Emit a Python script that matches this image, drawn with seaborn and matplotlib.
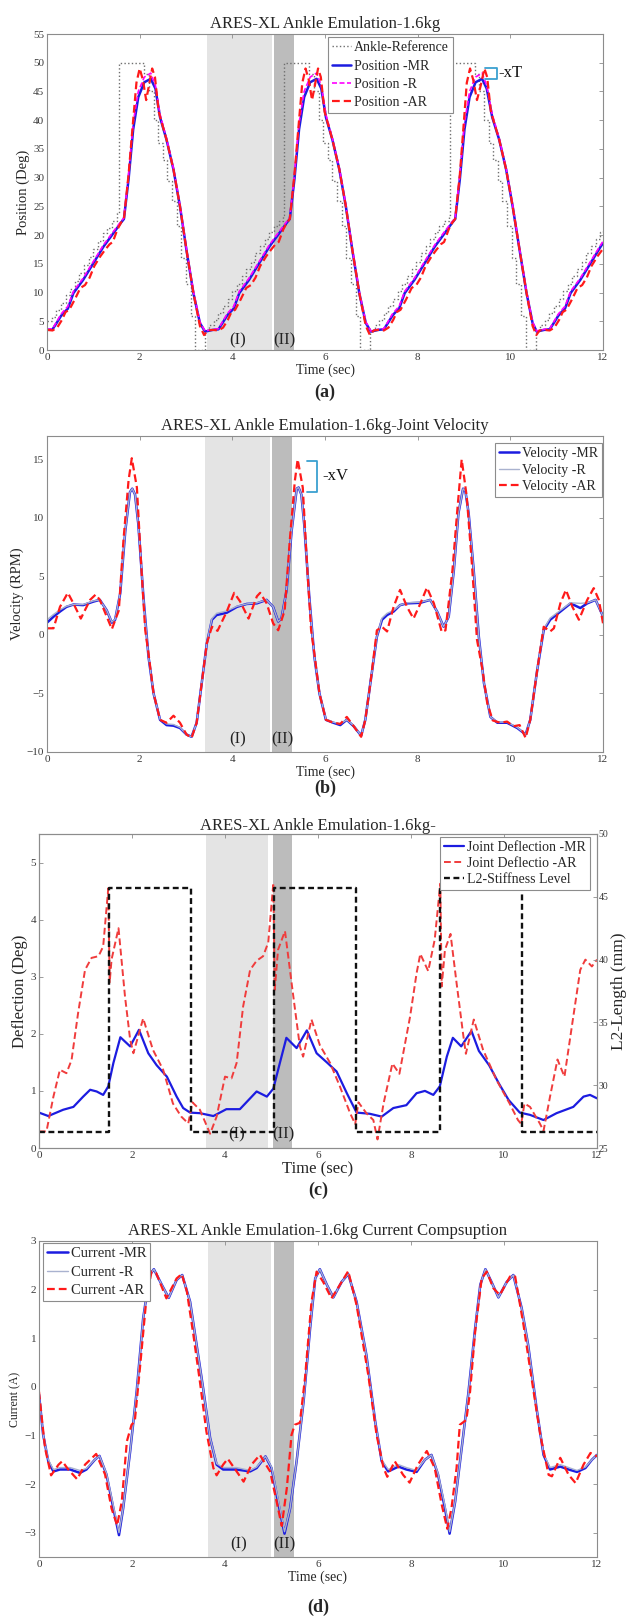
import matplotlib
matplotlib.use('Agg')
import matplotlib.pyplot as plt
import seaborn as sns

sns.set_style('white')
plt.rcParams['font.family'] = ['Liberation Serif', 'DejaVu Serif']
plt.rcParams['axes.linewidth'] = 0.8

# ---------------- data ----------------
# (a) position, deg
A_T_REF = [0.0, 0.1, 0.2, 0.3, 0.4, 0.5, 0.6, 0.7, 0.8, 0.9, 1.0, 1.1, 1.2, 1.3, 1.4, 1.5, 1.56,
           2.1, 2.2, 2.3, 2.4, 2.5, 2.6, 2.7, 2.8, 2.9, 3.0, 3.1, 3.2, 3.41,
           3.5, 3.6, 3.7, 3.8, 3.9, 4.0, 4.1, 4.2, 4.3, 4.4, 4.5, 4.6, 4.7, 4.8, 4.9, 5.0, 5.1, 5.12,
           5.66, 5.76, 5.86, 5.96, 6.06, 6.16, 6.26, 6.36, 6.46, 6.56, 6.66, 6.76, 6.98,
           7.07, 7.17, 7.27, 7.37, 7.47, 7.57, 7.67, 7.77, 7.87, 7.97, 8.07, 8.17, 8.27, 8.37, 8.47, 8.57, 8.67, 8.69,
           9.23, 9.33, 9.43, 9.53, 9.63, 9.73, 9.83, 9.93, 10.03, 10.13, 10.23, 10.33, 10.55,
           10.64, 10.74, 10.84, 10.94, 11.04, 11.14, 11.24, 11.34, 11.44, 11.54, 11.64, 11.74, 11.84, 11.94, 12.0]
A_REF = [5.0, 5.8, 7.0, 8.2, 9.5, 10.7, 12.0, 13.4, 14.8, 16.2, 17.5, 19.0, 20.3, 21.3, 22.4, 23.8, 50,
         48, 45, 40, 36, 33, 29.5, 26, 21.5, 16, 11.5, 6, 0, 3.5,
         4.3, 5.3, 6.4, 7.6, 8.9, 10.2, 11.5, 12.8, 14.1, 15.4, 16.8, 18.1, 19.3, 20.5, 21.5, 22.5, 23.5, 50,
         48, 45, 40, 36, 33, 29.5, 26, 21.5, 16, 11.5, 6, 0, 3.5,
         4.3, 5.3, 6.4, 7.6, 8.9, 10.2, 11.5, 12.8, 14.1, 15.4, 16.8, 18.1, 19.3, 20.5, 21.5, 22.5, 23.5, 50,
         48, 45, 40, 36, 33, 29.5, 26, 21.5, 16, 11.5, 6, 0, 3.5,
         4.3, 5.3, 6.4, 7.6, 8.9, 10.2, 11.5, 12.8, 14.1, 15.4, 16.8, 18.1, 19.3, 20.5, 21.0]

A_T_MR = [0.0, 0.12, 0.2, 0.3, 0.35, 0.45, 0.57, 0.78, 1.0, 1.22, 1.43, 1.6, 1.66, 1.76, 1.86, 1.97, 2.1, 2.24,
          2.34, 2.44, 2.58, 2.73, 2.87, 3.01, 3.16, 3.3, 3.41,
          3.58, 3.7, 3.78, 3.88, 3.93, 4.03, 4.15, 4.36, 4.58, 4.8, 5.01, 5.18, 5.24, 5.34, 5.44, 5.55, 5.68, 5.82,
          5.92, 6.02, 6.16, 6.31, 6.45, 6.59, 6.74, 6.88, 6.99,
          7.15, 7.27, 7.35, 7.45, 7.5, 7.6, 7.72, 7.93, 8.15, 8.37, 8.58, 8.75, 8.81, 8.91, 9.01, 9.12, 9.25, 9.39,
          9.49, 9.61, 9.76, 9.91, 10.05, 10.2, 10.35, 10.48, 10.57,
          10.73, 10.85, 10.93, 11.03, 11.08, 11.18, 11.3, 11.51, 11.73, 11.95, 12.0]
A_MR = [3.5, 3.6, 4.6, 5.9, 6.4, 7.2, 9.9, 12.2, 15.1, 18.0, 20.3, 22.2, 22.8, 29.7, 38.4, 44.0, 46.6, 47.2,
        45.5, 40.5, 36.6, 31.4, 25.0, 17.4, 9.9, 4.7, 3.2,
        3.5, 3.6, 4.6, 5.9, 6.4, 7.2, 9.9, 12.2, 15.1, 18.0, 20.3, 22.2, 22.8, 29.7, 38.4, 44.0, 46.6, 47.2,
        45.5, 40.5, 36.6, 31.4, 25.0, 17.4, 9.9, 4.7, 3.2,
        3.5, 3.6, 4.6, 5.9, 6.4, 7.2, 9.9, 12.2, 15.1, 18.0, 20.3, 22.2, 22.8, 29.7, 38.4, 44.0, 46.6, 47.2,
        45.5, 40.5, 36.6, 31.4, 25.0, 17.4, 9.9, 4.7, 3.2,
        3.5, 3.6, 4.6, 5.9, 6.4, 7.2, 9.9, 12.2, 15.1, 18.0, 18.6]
A_R = [3.6, 3.7, 4.8, 6.2, 6.7, 7.6, 10.2, 12.5, 15.4, 18.3, 20.6, 22.4, 23.0, 30.5, 39.5, 45.0, 47.5, 48.2,
       46.0, 41.0, 36.8, 31.6, 25.2, 17.6, 10.2, 4.9, 3.3,
       3.6, 3.7, 4.8, 6.2, 6.7, 7.6, 10.2, 12.5, 15.4, 18.3, 20.6, 22.4, 23.0, 30.5, 39.5, 45.0, 47.5, 48.2,
       46.0, 41.0, 36.8, 31.6, 25.2, 17.6, 10.2, 4.9, 3.3,
       3.6, 3.7, 4.8, 6.2, 6.7, 7.6, 10.2, 12.5, 15.4, 18.3, 20.6, 22.4, 23.0, 30.5, 39.5, 45.0, 47.5, 48.2,
       46.0, 41.0, 36.8, 31.6, 25.2, 17.6, 10.2, 4.9, 3.3,
       3.6, 3.7, 4.8, 6.2, 6.7, 7.6, 10.2, 12.5, 15.4, 18.3, 18.9]

A_T_AR = [0.0, 0.12, 0.22, 0.32, 0.4, 0.48, 0.6, 0.72, 0.82, 0.92, 1.02, 1.15, 1.25, 1.35, 1.42, 1.52, 1.6, 1.66,
          1.76, 1.86, 1.93, 2.0, 2.07, 2.14, 2.2, 2.27, 2.33, 2.41, 2.58, 2.73, 2.87, 3.01, 3.16, 3.3, 3.39, 3.47,
          3.58, 3.7, 3.8, 3.9, 3.98, 4.06, 4.18, 4.3, 4.4, 4.5, 4.6, 4.73, 4.83, 4.93, 5.0, 5.1, 5.18, 5.24,
          5.34, 5.44, 5.51, 5.58, 5.65, 5.72, 5.78, 5.85, 5.91, 5.99, 6.16, 6.31, 6.45, 6.59, 6.74, 6.88, 6.97, 7.05,
          7.15, 7.27, 7.37, 7.47, 7.55, 7.63, 7.75, 7.87, 7.97, 8.07, 8.17, 8.3, 8.4, 8.5, 8.57, 8.67, 8.75, 8.81,
          8.91, 9.0, 9.06, 9.13, 9.2, 9.28, 9.36, 9.44, 9.5, 9.58, 9.76, 9.91, 10.05, 10.2, 10.35, 10.48, 10.56, 10.63,
          10.73, 10.85, 10.95, 11.05, 11.13, 11.21, 11.33, 11.45, 11.55, 11.65, 11.75, 11.88, 11.98, 12.0]
A_AR = [3.5, 3.4, 3.9, 5.2, 6.6, 7.0, 8.8, 10.8, 11.3, 12.6, 14.6, 16.3, 17.4, 18.4, 18.8, 21.0, 22.2, 22.8,
        30.5, 40.0, 46.5, 49.0, 47.0, 43.5, 46.0, 49.0, 47.5, 41.5, 36.6, 31.4, 25.0, 17.4, 9.9, 4.2, 2.6, 3.4,
        3.5, 3.4, 3.9, 5.2, 6.6, 7.0, 8.8, 10.8, 11.3, 12.6, 14.6, 16.3, 17.4, 18.4, 18.8, 21.0, 22.2, 22.8,
        30.5, 40.0, 46.5, 49.0, 47.0, 43.5, 46.0, 49.0, 47.5, 41.5, 36.6, 31.4, 25.0, 17.4, 9.9, 4.2, 2.6, 3.4,
        3.5, 3.4, 3.9, 5.2, 6.6, 7.0, 8.8, 10.8, 11.3, 12.6, 14.6, 16.3, 17.4, 18.4, 18.8, 21.0, 22.2, 22.8,
        30.5, 40.0, 46.5, 49.0, 47.0, 43.5, 46.0, 49.0, 47.5, 41.5, 36.6, 31.4, 25.0, 17.4, 9.9, 4.2, 2.6, 3.4,
        3.5, 3.4, 3.9, 5.2, 6.6, 7.0, 8.8, 10.8, 11.3, 12.6, 14.6, 16.3, 17.4, 17.6]

# (b) joint velocity, RPM
B_T_MR = [0.0, 0.14, 0.28, 0.42, 0.57, 0.78, 1.0, 1.14, 1.29, 1.4, 1.47, 1.58, 1.69, 1.79, 1.84, 1.9, 1.97,
          2.08, 2.19, 2.3, 2.44, 2.58, 2.73, 2.87, 3.01, 3.12, 3.23, 3.34, 3.45, 3.56, 3.66, 3.88, 4.1, 4.31,
          4.53, 4.74, 4.88, 4.99, 5.06, 5.17, 5.28, 5.39, 5.43, 5.49, 5.55, 5.66, 5.77, 5.88, 6.02, 6.18, 6.33,
          6.47, 6.62, 6.78, 6.87, 6.98, 7.12, 7.23, 7.34, 7.48, 7.62, 7.77, 8.06, 8.27, 8.42, 8.56, 8.67, 8.78,
          8.88, 8.98, 9.03, 9.1, 9.21, 9.32, 9.43, 9.57, 9.72, 9.93, 10.15, 10.33, 10.43, 10.58, 10.72, 10.86,
          11.08, 11.3, 11.51, 11.66, 11.84, 12.0]
B_MR = [1.05, 1.56, 2.0, 2.4, 2.6, 2.55, 2.85, 3.0, 2.1, 1.05, 1.3, 3.55, 8.9, 12.2, 12.5, 12.0, 9.5,
        3.3, -1.85, -5.0, -7.25, -7.7, -7.75, -7.95, -8.5, -8.7, -7.5, -4.1, -0.7, 1.3, 1.7, 1.9, 2.4, 2.65,
        2.7, 3.0, 2.4, 1.15, 1.4, 3.8, 8.9, 12.5, 12.6, 12.0, 9.5, 3.3, -1.85, -5.0, -7.25, -7.5, -7.7,
        -7.25, -7.8, -8.6, -7.25, -4.1, -0.15, 1.3, 1.7, 2.0, 2.55, 2.7, 2.75, 3.0, 2.0, 0.7, 1.56, 5.5,
        10.4, 12.5, 12.3, 10.4, 5.5, -0.15, -4.1, -7.0, -7.5, -7.5, -7.95, -8.5, -7.25, -3.0, 0.4, 1.3,
        2.0, 2.7, 2.3, 2.7, 3.0, 1.6]
B_R = [1.3, 1.75, 2.15, 2.45, 2.6, 2.6, 2.9, 3.0, 2.1, 1.1, 1.35, 3.6, 8.9, 12.2, 12.5, 12.0, 9.5,
       3.3, -1.85, -5.0, -7.2, -7.6, -7.65, -7.9, -8.5, -8.7, -7.5, -4.1, -0.7, 1.4, 1.85, 2.05, 2.45, 2.65,
       2.75, 3.0, 2.4, 1.15, 1.4, 3.8, 8.9, 12.5, 12.6, 12.0, 9.5, 3.3, -1.85, -5.0, -7.2, -7.45, -7.6,
       -7.25, -7.75, -8.6, -7.25, -4.1, -0.15, 1.45, 1.85, 2.1, 2.55, 2.75, 2.8, 3.0, 2.0, 0.7, 1.56, 5.5,
       10.4, 12.5, 12.3, 10.4, 5.5, -0.15, -4.1, -7.0, -7.45, -7.45, -7.9, -8.5, -7.25, -3.0, 0.5, 1.45,
       2.1, 2.75, 2.7, 2.75, 3.0, 1.6]
B_T_AR = [0.0, 0.14, 0.28, 0.45, 0.57, 0.73, 0.93, 1.05, 1.14, 1.29, 1.4, 1.55, 1.65, 1.76, 1.83, 1.94, 2.04,
          2.12, 2.19, 2.3, 2.44, 2.58, 2.73, 2.87, 3.01, 3.12, 3.23, 3.34, 3.45, 3.56, 3.68, 3.88, 4.04, 4.17,
          4.35, 4.53, 4.6, 4.74, 4.88, 4.99, 5.13, 5.24, 5.35, 5.41, 5.52, 5.62, 5.7, 5.77, 5.88, 6.02, 6.18,
          6.33, 6.47, 6.62, 6.78, 6.87, 6.98, 7.12, 7.23, 7.34, 7.48, 7.62, 7.77, 7.91, 8.06, 8.2, 8.35, 8.52,
          8.6, 8.75, 8.85, 8.95, 9.06, 9.17, 9.28, 9.4, 9.5, 9.62, 9.78, 9.93, 10.07, 10.2, 10.33, 10.43, 10.58,
          10.72, 10.86, 10.94, 11.08, 11.2, 11.34, 11.48, 11.66, 11.8, 11.91, 12.0]
B_AR = [0.57, 0.57, 2.4, 3.6, 2.7, 1.4, 3.0, 3.45, 3.0, 1.56, 0.5, 2.1, 8.1, 13.2, 15.1, 12.6, 5.5,
        0.4, -1.56, -5.0, -7.25, -7.5, -6.9, -7.5, -8.5, -8.8, -7.5, -4.1, -0.7, 0.7, 0.35, 2.0, 3.6, 2.85,
        1.4, 3.3, 3.6, 2.7, 1.0, 0.4, 2.1, 8.1, 13.2, 15.0, 12.6, 5.5, 0.4, -1.56, -5.0, -7.25, -7.5,
        -7.6, -7.0, -7.8, -8.7, -7.25, -4.1, 0.4, 0.7, 0.3, 2.4, 3.85, 2.4, 1.4, 2.7, 4.05, 2.7, 0.25,
        0.4, 5.5, 10.4, 15.0, 11.8, 6.1, -0.4, -3.0, -5.8, -7.3, -7.5, -7.4, -7.8, -7.7, -8.8, -7.25, -3.0,
        0.7, 0.3, 0.57, 2.7, 3.85, 2.4, 1.3, 3.0, 4.0, 3.0, 1.0]

# (c) joint deflection, deg, and L2 length, mm
C_T_MR = [0.0, 0.2, 0.52, 0.74, 0.95, 1.1, 1.24, 1.38, 1.49, 1.6, 1.75, 1.96, 2.15, 2.35, 2.53, 2.75, 2.96,
          3.1, 3.25, 3.46, 3.75, 4.03, 4.32, 4.68, 4.9, 5.04, 5.18, 5.32, 5.54, 5.76, 5.97, 6.19, 6.4, 6.62,
          6.83, 7.11, 7.37, 7.62, 7.9, 8.12, 8.3, 8.48, 8.62, 8.77, 8.9, 9.08, 9.3, 9.46, 9.68, 9.89, 10.1,
          10.34, 10.56, 10.85, 11.13, 11.49, 11.71, 11.85, 12.0]
C_MR = [0.62, 0.56, 0.67, 0.72, 0.9, 1.02, 0.99, 0.93, 1.08, 1.49, 1.94, 1.78, 2.07, 1.66, 1.45, 1.25, 0.9,
        0.7, 0.62, 0.61, 0.56, 0.68, 0.68, 0.99, 0.9, 1.04, 1.49, 1.93, 1.75, 2.06, 1.66, 1.5, 1.34, 0.96,
        0.62, 0.6, 0.55, 0.7, 0.75, 0.96, 1.0, 0.93, 1.08, 1.6, 1.93, 1.78, 2.05, 1.7, 1.45, 1.13, 0.84,
        0.62, 0.58, 0.49, 0.61, 0.72, 0.9, 0.93, 0.87]
C_T_AR = [0.0, 0.16, 0.31, 0.45, 0.59, 0.7, 0.84, 0.99, 1.13, 1.28, 1.38, 1.49, 1.52, 1.56, 1.71, 1.85, 1.96,
          2.03, 2.24, 2.45, 2.67, 2.88, 3.06, 3.21, 3.3, 3.46, 3.68, 3.82, 4.0, 4.14, 4.25, 4.39, 4.54, 4.68,
          4.82, 4.93, 5.04, 5.07, 5.14, 5.29, 5.47, 5.61, 5.68, 5.86, 6.04, 6.26, 6.47, 6.69, 6.8, 6.87, 7.04,
          7.19, 7.28, 7.41, 7.6, 7.75, 7.98, 8.12, 8.2, 8.37, 8.51, 8.63, 8.66, 8.73, 8.85, 8.98, 9.12, 9.18,
          9.35, 9.55, 9.84, 10.12, 10.3, 10.37, 10.44, 10.56, 10.77, 10.85, 10.99, 11.15, 11.3, 11.49, 11.64,
          11.75, 11.89, 12.0]
C_AR = [0.29, 0.29, 0.9, 1.37, 1.31, 1.54, 2.36, 3.12, 3.33, 3.36, 3.53, 4.55, 2.9, 3.3, 3.85, 2.65, 1.9,
        1.66, 2.27, 1.72, 1.37, 0.78, 0.55, 0.43, 0.8, 0.67, 0.25, 0.55, 1.25, 1.22, 1.49, 2.48, 3.12, 3.28,
        3.36, 3.6, 4.64, 2.77, 3.47, 3.8, 2.65, 1.78, 1.6, 2.25, 1.8, 1.49, 1.08, 0.61, 0.42, 0.8, 0.61,
        0.49, 0.15, 0.78, 1.48, 1.3, 2.3, 3.06, 3.4, 3.1, 3.65, 4.63, 2.83, 3.47, 3.75, 2.89, 2.0, 1.65,
        2.25, 1.72, 1.19, 0.78, 0.49, 0.42, 0.78, 0.72, 0.43, 0.3, 0.9, 1.55, 1.25, 2.3, 3.12,
        3.3, 3.18, 3.3]
C_T_L2 = [0.0, 1.5, 3.26, 5.05, 6.82, 8.62, 10.38, 12.0]
C_L2 = [26.3, 45.7, 26.3, 45.7, 26.3, 45.7, 26.3, 26.3]

# (d) current consumption, A
D_T_MR = [0.0, 0.09, 0.2, 0.31, 0.45, 0.67, 0.88, 1.02, 1.2, 1.3, 1.45, 1.6, 1.72, 1.81, 1.96, 2.1, 2.24,
          2.38, 2.47, 2.64, 2.79, 2.96, 3.08, 3.25, 3.39, 3.53, 3.68, 3.82, 3.96, 4.25, 4.54, 4.68, 4.87, 5.0,
          5.14, 5.28, 5.4, 5.54, 5.69, 5.83, 5.94, 6.04, 6.19, 6.33, 6.51, 6.65, 6.83, 7.04, 7.23, 7.37, 7.51,
          7.73, 7.9, 8.12, 8.3, 8.44, 8.58, 8.73, 8.83, 8.95, 9.09, 9.23, 9.38, 9.49, 9.6, 9.73, 9.88, 10.06,
          10.2, 10.38, 10.52, 10.7, 10.85, 10.99, 11.21, 11.39, 11.57, 11.75, 11.89, 12.0]
D_MR = [-0.16, -0.99, -1.53, -1.74, -1.7, -1.7, -1.77, -1.7, -1.5, -1.42, -1.8, -2.5, -3.05, -2.5, -1.33, -0.1, 1.41,
        2.3, 2.42, 2.1, 1.83, 2.2, 2.3, 1.75, 0.86, -0.03, -1.05, -1.6, -1.7, -1.7, -1.74, -1.67, -1.43, -1.67,
        -2.36, -3.02, -2.5, -1.53, -0.3, 1.2, 2.23, 2.42, 2.1, 1.84, 2.16, 2.32, 1.75, 0.66, -0.71, -1.53, -1.74,
        -1.64, -1.7, -1.75, -1.5, -1.4, -1.8, -2.5, -3.02, -2.36, -1.26, -0.16, 1.21, 2.1, 2.42, 2.16, 1.84, 2.16,
        2.3, 1.62, 0.86, -0.44, -1.4, -1.7, -1.64, -1.7, -1.75, -1.67, -1.5, -1.4]
D_R = [-0.16, -0.99, -1.5, -1.7, -1.66, -1.66, -1.72, -1.68, -1.5, -1.42, -1.78, -2.45, -3.0, -2.5, -1.33, -0.1, 1.41,
       2.3, 2.42, 2.1, 1.83, 2.2, 2.3, 1.75, 0.86, -0.03, -1.05, -1.58, -1.66, -1.66, -1.72, -1.65, -1.43, -1.65,
       -2.3, -2.98, -2.5, -1.53, -0.3, 1.2, 2.23, 2.42, 2.1, 1.84, 2.16, 2.32, 1.75, 0.66, -0.71, -1.5, -1.7,
       -1.6, -1.66, -1.72, -1.5, -1.4, -1.78, -2.45, -2.98, -2.36, -1.26, -0.16, 1.21, 2.1, 2.42, 2.16, 1.84, 2.16,
       2.3, 1.62, 0.86, -0.44, -1.38, -1.66, -1.6, -1.66, -1.72, -1.65, -1.5, -1.4]
D_T_AR = [0.0, 0.13, 0.26, 0.42, 0.5, 0.63, 0.82, 0.99, 1.23, 1.42, 1.56, 1.68, 1.78, 1.89, 1.99, 2.06, 2.17,
          2.31, 2.42, 2.52, 2.74, 2.96, 3.07, 3.18, 3.32, 3.46, 3.6, 3.75, 3.82, 3.96, 4.06, 4.25, 4.4, 4.57,
          4.75, 4.97, 5.11, 5.22, 5.33, 5.43, 5.5, 5.61, 5.72, 5.86, 5.97, 6.11, 6.29, 6.51, 6.65, 6.83, 7.08,
          7.26, 7.41, 7.49, 7.65, 7.83, 7.97, 8.15, 8.34, 8.51, 8.66, 8.78, 8.87, 8.98, 9.05, 9.19, 9.27, 9.38,
          9.52, 9.63, 9.77, 9.91, 10.13, 10.24, 10.42, 10.56, 10.78, 10.96, 11.03, 11.21, 11.39, 11.54, 11.71,
          11.86, 12.0]
D_AR = [-0.1, -1.26, -1.82, -1.6, -1.53, -1.7, -1.9, -1.6, -1.38, -1.8, -2.5, -2.85, -2.36, -1.12, -0.78, -0.71, 0.38,
        1.82, 2.37, 2.34, 1.82, 2.23, 2.32, 1.96, 1.07, 0.11, -0.92, -1.67, -1.82, -1.6, -1.48, -1.74, -1.95, -1.6,
        -1.4, -1.74, -2.36, -2.86, -2.08, -0.99, -0.78, -0.74, 0.18, 1.75, 2.37, 2.16, 1.82, 2.16, 2.38, 1.68, 0.25,
        -0.99, -1.67, -1.85, -1.53, -1.81, -1.97, -1.6, -1.32, -1.67, -2.42, -2.92, -2.5, -1.67, -0.78, -0.68, -0.1, 1.14,
        2.23, 2.37, 2.03, 1.89, 2.27, 2.27, 1.27, 0.38, -0.99, -1.81, -1.84, -1.46, -1.81, -1.98, -1.6,
        -1.36, -1.43]

# shaded phases (I) light, (II) dark, per panel, sec
SPANS = {
    'a': [(3.46, 4.86), (4.90, 5.34)],
    'b': [(3.41, 4.82), (4.86, 5.29)],
    'c': [(3.59, 4.92), (5.03, 5.44)],
    'd': [(3.63, 4.98), (5.06, 5.48)],
}
PHASE_LABELS = {
    'a': [(4.11, 1.7), (5.12, 1.7)],
    'b': [(4.11, -8.95), (5.07, -8.95)],
    'c': [(4.25, 0.23), (5.25, 0.23)],
    'd': [(4.29, -3.25), (5.28, -3.25)],
}

BLUE = '#1c1ce0'
RED = '#ff1a1a'
MAGENTA = '#ff00ff'
LIGHT = '#a9b2cf'
GREYREF = '#6e6e6e'
BRACKET = '#3aa0d0'
SPINE = '#8c8c8c'
TICKCOL = '#3a3a3a'


def draw(ax, t, v, color, lw, ls='-', label=None, **kw):
    sns.lineplot(x=t, y=v, ax=ax, color=color, linewidth=lw, linestyle=ls, label=label,
                 estimator=None, sort=False, **kw)


def style(ax, xlabel_size=10, ylabel=None, ylabel_size=10.5, right=True):
    for s in ax.spines.values():
        s.set_color(SPINE)
        s.set_linewidth(0.8)
    ax.tick_params(direction='in', length=3, width=0.6, color=SPINE, labelcolor=TICKCOL,
                   labelsize=8, top=True, right=right, pad=2)
    ax.set_xlim(0, 12)
    ax.set_xticks(range(0, 13, 2))
    ax.set_xlabel('Time (sec)', fontsize=xlabel_size, labelpad=1)
    ax.set_ylabel(ylabel, fontsize=ylabel_size, labelpad=2)


def shade(ax, key):
    (l0, l1), (d0, d1) = SPANS[key]
    ax.axvspan(l0, l1, color='#e4e4e4', zorder=0, lw=0)
    ax.axvspan(d0, d1, color='#bcbcbc', zorder=0, lw=0)
    for (x, y), txt in zip(PHASE_LABELS[key], ['(I)', '(II)']):
        ax.text(x, y, txt, ha='center', va='center', fontsize=12, color='#222222', zorder=5)


def legend(ax, handles, labels, loc, anchor, size, spacing=0.35):
    lg = ax.legend(handles, labels, loc=loc, bbox_to_anchor=anchor, borderaxespad=0,
                   fontsize=size, fancybox=False, framealpha=1, edgecolor=SPINE,
                   handlelength=1.4, handletextpad=0.2, labelspacing=spacing, borderpad=0.3)
    lg.get_frame().set_linewidth(0.8)
    lg.set_zorder(10)


W, H = 627, 1620
fig = plt.figure(figsize=(W / 100, H / 100), dpi=100)


def axes_px(left, right, top, bottom):
    return fig.add_axes([left / W, 1 - bottom / H, (right - left) / W, (bottom - top) / H])


DASH = (0, (3.5, 1.8))

# ---- (a)
ax = axes_px(47, 603, 34, 350)
shade(ax, 'a')
draw(ax, A_T_REF, A_REF, GREYREF, 1.0, ':', 'Ankle-Reference', drawstyle='steps-post')
draw(ax, A_T_MR, A_MR, BLUE, 1.8, '-', 'Position -MR')
draw(ax, A_T_MR, A_R, MAGENTA, 1.2, (0, (3, 1.5)), 'Position -R')
draw(ax, A_T_AR, A_AR, RED, 1.6, DASH, 'Position -AR')
ax.set_ylim(0, 55)
ax.set_yticks(range(0, 56, 5))
style(ax, ylabel='Position (Deg)')
ax.set_title('ARES-XL Ankle Emulation-1.6kg', fontsize=12, pad=4)
h, l = ax.get_legend_handles_labels()
legend(ax, h, l, 'upper left', (0.505, 0.99), 10, 0.38)
ax.plot([9.46, 9.71, 9.71, 9.46], [49.1, 49.1, 47.2, 47.2], color=BRACKET, lw=1.3, zorder=6)
ax.text(9.74, 48.2, '-xT', fontsize=12, va='center', ha='left', color='#111111')

# ---- (b)
ax = axes_px(47, 603, 436, 752)
shade(ax, 'b')
draw(ax, B_T_MR, B_MR, BLUE, 1.8, '-', 'Velocity -MR')
draw(ax, B_T_MR, B_R, LIGHT, 1.0, '-', 'Velocity -R')
draw(ax, B_T_AR, B_AR, RED, 1.6, DASH, 'Velocity -AR')
ax.set_ylim(-10, 17)
ax.set_yticks([-10, -5, 0, 5, 10, 15])
style(ax, ylabel='Velocity (RPM)')
ax.set_title('ARES-XL Ankle Emulation-1.6kg-Joint Velocity', fontsize=12, pad=4)
h, l = ax.get_legend_handles_labels()
legend(ax, h, l, 'upper right', (0.998, 0.978), 10, 0.25)
ax.plot([5.61, 5.83, 5.83, 5.61], [14.9, 14.9, 12.2, 12.2], color=BRACKET, lw=1.3, zorder=6)
ax.text(5.95, 13.6, '-xV', fontsize=12, va='center', ha='left', color='#111111')

# ---- (c)
ax = axes_px(39, 597, 834, 1148)
shade(ax, 'c')
draw(ax, C_T_MR, C_MR, BLUE, 1.6, '-', 'Joint Deflection -MR')
draw(ax, C_T_AR, C_AR, '#f03c3c', 1.4, DASH, 'Joint Deflectio -AR')
ax.set_ylim(0, 5.5)
ax.set_yticks(range(0, 6))
style(ax, xlabel_size=12, ylabel='Deflection (Deg)', ylabel_size=12, right=False)
ax.set_title('ARES-XL Ankle Emulation-1.6kg-', fontsize=12, pad=2)
ax2 = ax.twinx()
draw(ax2, C_T_L2, C_L2, '#111111', 1.7, (0, (2.5, 1.5)), 'L2-Stiffness Level', drawstyle='steps-post')
ax2.set_ylim(25, 50)
ax2.set_yticks(range(25, 51, 5))
for s in ax2.spines.values():
    s.set_color(SPINE)
    s.set_linewidth(0.8)
ax2.tick_params(direction='in', length=3, width=0.6, color=SPINE, labelcolor=TICKCOL, labelsize=7, pad=1)
ax2.set_ylabel('L2-Length (mm)', fontsize=12.5, labelpad=2)
h1, l1 = ax.get_legend_handles_labels()
h2, l2 = ax2.get_legend_handles_labels()
if ax.get_legend():
    ax.get_legend().remove()
legend(ax2, h1 + h2, l1 + l2, 'upper right', (0.987, 0.99), 10, 0.2)

# ---- (d)
ax = axes_px(39, 597, 1241, 1557)
shade(ax, 'd')
draw(ax, D_T_MR, D_MR, BLUE, 1.8, '-', 'Current -MR')
draw(ax, D_T_MR, D_R, LIGHT, 1.0, '-', 'Current -R')
draw(ax, D_T_AR, D_AR, RED, 1.6, DASH, 'Current -AR')
ax.set_ylim(-3.5, 3)
ax.set_yticks(range(-3, 4))
style(ax, ylabel='Current (A)', ylabel_size=8.5)
ax.set_title('ARES-XL Ankle Emulation-1.6kg Current Compsuption', fontsize=12, pad=4)
h, l = ax.get_legend_handles_labels()
legend(ax, h, l, 'upper left', (0.007, 0.994), 10.5, 0.35)

# panel letters
for y, txt in [(392, '(a)'), (788, '(b)'), (1190, '(c)'), (1607, '(d)')]:
    fig.text(325 / W if txt in ('(a)', '(b)') else 318 / W, 1 - y / H, txt,
             ha='center', va='center', fontsize=13, fontweight='bold')

fig.savefig('out.png', dpi=100)
